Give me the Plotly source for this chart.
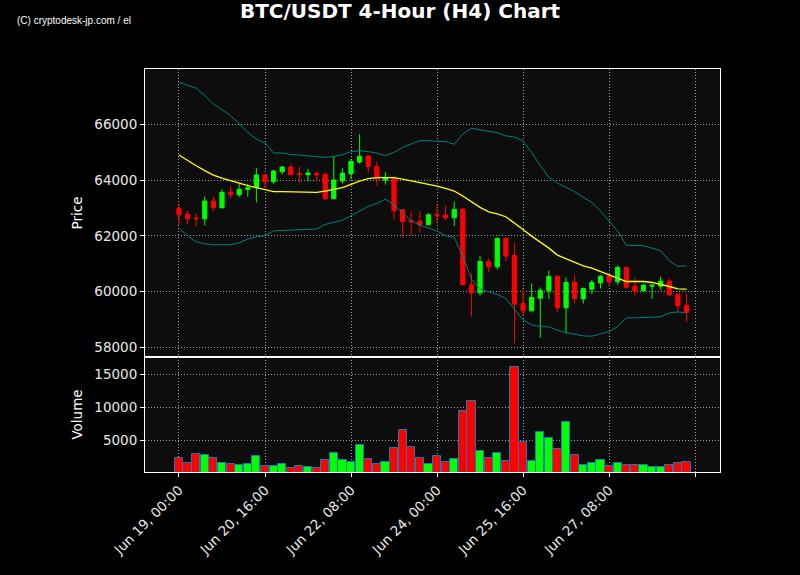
import pandas as pd
import plotly.graph_objects as go

dates = pd.date_range("2024-06-19 00:00", periods=60, freq="4h")

open_ = [62982, 62778, 62635, 62611, 63246, 63006, 63569, 63473, 63665, 63725, 64180, 63940, 64299, 64467, 64228,
         64192, 64240, 64204, 63329, 63964, 64228, 64647, 64862, 64491, 64000, 64084, 62934, 62539, 62527, 62395,
         62754, 62742, 62647, 62958, 60240, 59952, 61078, 60886, 61904, 61294, 59569, 59306, 59760, 60024, 60551,
         59414, 60336, 59737, 60084, 60312, 60563, 60348, 60862, 60192, 60024, 60192, 60192, 60372, 59904, 59509]
close = [62754, 62611, 62611, 63246, 63006, 63557, 63473, 63665, 63725, 64180, 63940, 64324, 64467, 64192, 64204,
         64252, 64192, 63329, 64000, 64252, 64671, 64850, 64479, 64036, 64096, 62898, 62503, 62503, 62395, 62754,
         62719, 62647, 62946, 60240, 59952, 61078, 60886, 61904, 61270, 59545, 59306, 59785, 60048, 60539, 59414,
         60323, 59737, 60108, 60323, 60551, 60348, 60862, 60156, 60024, 60228, 60228, 60372, 59880, 59485, 59258]
high = [63138, 62898, 62790, 63413, 63401, 63665, 63773, 63880, 63856, 64431, 64200, 64360, 64503, 64587, 64479,
        64395, 64324, 64276, 64850, 64419, 64754, 65641, 64874, 64671, 64276, 64084, 62934, 62874, 62886, 62814,
        63138, 63078, 63222, 62982, 60659, 61282, 61186, 61952, 61904, 61749, 60084, 60288, 60144, 60755, 60587,
        60503, 60587, 60144, 60419, 60599, 60635, 60934, 60862, 60491, 60276, 60228, 60539, 60467, 59904, 59928]
low = [62395, 62407, 62347, 62371, 62886, 62982, 63341, 63389, 63401, 63198, 63713, 63868, 64204, 64192, 63916,
       63952, 63940, 63270, 63329, 63880, 64024, 64587, 64264, 63796, 63832, 62587, 61940, 62000, 62120, 62395,
       62479, 62539, 62348, 60240, 59102, 59857, 60683, 60791, 61078, 58144, 59126, 59306, 58347, 59725, 59246,
       58491, 59569, 59569, 59904, 60108, 60180, 60240, 60108, 59844, 60012, 59737, 60060, 59844, 59269, 58911]
bb_upper = [67509, 67413, 67293, 67030, 66731, 66527, 66312, 66012, 65713, 65473, 65329, 64970, 64970, 64922, 64898,
            64850, 64850, 64814, 64850, 64910, 65018, 65054, 65018, 64970, 64874, 64994, 65174, 65293, 65413, 65413,
            65401, 65377, 65282, 65653, 65856, 65808, 65760, 65701, 65581, 65545, 65401, 64994, 64515, 64096, 63892,
            63749, 63581, 63377, 63198, 62886, 62527, 62168, 61665, 61665, 61641, 61557, 61461, 61102, 60898, 60922]
bb_mid = [64898, 64695, 64515, 64336, 64180, 64072, 63976, 63880, 63796, 63725, 63653, 63581, 63581, 63569, 63557,
          63545, 63557, 63605, 63653, 63725, 63844, 63964, 64048, 64084, 64084, 64084, 64036, 63976, 63916, 63856,
          63784, 63701, 63605, 63425, 63210, 63018, 62862, 62790, 62683, 62467, 62228, 61988, 61772, 61557, 61306,
          61186, 61066, 60922, 60838, 60731, 60599, 60479, 60359, 60359, 60359, 60324, 60264, 60180, 60096, 60084]
bb_lower = [62264, 62000, 61785, 61713, 61677, 61665, 61677, 61749, 61880, 61964, 62000, 62180, 62192, 62204, 62216,
            62228, 62240, 62407, 62479, 62563, 62719, 62886, 63054, 63162, 63317, 63102, 62838, 62539, 62383, 62276,
            62168, 62000, 61940, 61282, 60443, 60084, 59988, 59892, 59749, 59365, 58982, 58802, 58743, 58731, 58611,
            58527, 58455, 58407, 58395, 58467, 58563, 58743, 59054, 59054, 59066, 59078, 59090, 59233, 59269, 59233]
volume = [2418, 1661, 3025, 2873, 2418, 1661, 1510, 1358, 1510, 2722, 1156, 1156, 1510, 904, 1207, 1005, 853, 2115,
          3176, 2065, 1762, 4237, 2267, 1510, 1813, 3934, 6509, 4085, 2418, 1510, 2722, 1813, 2267, 9388, 10903,
          3479, 2418, 3176, 1964, 16054, 4691, 1964, 6206, 5297, 3782, 7721, 2873, 1358, 1661, 2115, 1207, 1661,
          1358, 1358, 1358, 1055, 1055, 1358, 1661, 1813]

tick_vals = pd.date_range("2024-06-19 00:00", periods=7, freq="40h")
tick_text = ["Jun 19, 00:00", "Jun 20, 16:00", "Jun 22, 08:00", "Jun 24, 00:00",
             "Jun 25, 16:00", "Jun 27, 08:00", ""]
price_ticks = [58000, 60000, 62000, 64000, 66000]
price_tick_text = ["58000", "60000", "62000", "64000", "66000"]
vol_ticks = [5000, 10000, 15000]
vol_tick_text = ["5000", "10000", "15000"]

UP = "#00ff00"
DOWN = "#ff0000"
vol_colors = [UP if c >= o else DOWN for o, c in zip(open_, close)]

fig = go.Figure()
fig.add_trace(go.Candlestick(
    x=dates, open=open_, high=high, low=low, close=close,
    increasing=dict(line=dict(color=UP, width=1), fillcolor=UP),
    decreasing=dict(line=dict(color=DOWN, width=1), fillcolor=DOWN),
    whiskerwidth=0, xaxis="x", yaxis="y", showlegend=False))
fig.add_trace(go.Scatter(x=dates, y=bb_upper, mode="lines", line=dict(color="#008080", width=1),
                         xaxis="x", yaxis="y", showlegend=False))
fig.add_trace(go.Scatter(x=dates, y=bb_mid, mode="lines", line=dict(color="#ffff00", width=1.3),
                         xaxis="x", yaxis="y", showlegend=False))
fig.add_trace(go.Scatter(x=dates, y=bb_lower, mode="lines", line=dict(color="#008080", width=1),
                         xaxis="x", yaxis="y", showlegend=False))
fig.add_trace(go.Bar(x=dates, y=volume, marker=dict(color=vol_colors, line=dict(color="#1f77b4", width=1)),
                     width=4 * 3600 * 1000 * 0.95, xaxis="x2", yaxis="y2", showlegend=False))

x_range = ["2024-06-18 08:12", "2024-06-29 11:35"]
axis_common = dict(showline=True, linecolor="white", linewidth=1, mirror=True,
                   gridcolor="#a0a0a0", griddash="1px,2px", gridwidth=1, zeroline=False,
                   tickfont=dict(color="#e8e8e8", size=13.5),
                   tickcolor="white", ticklen=4)
split = 115 / 403

fig.update_layout(
    width=800, height=575,
    paper_bgcolor="black", plot_bgcolor="#0d0d0d",
    font=dict(family="DejaVu Sans", color="white"),
    margin=dict(l=145, r=80, t=69, b=103),
    title=dict(text="<b>BTC/USDT 4-Hour (H4) Chart</b>", x=0.5, xref="container", xanchor="center",
               y=1 - 11 / 575, yref="container", yanchor="middle",
               font=dict(size=20, color="white", family="DejaVu Sans")),
    xaxis=dict(domain=[0, 1], anchor="y", range=x_range, rangeslider=dict(visible=False),
               tickvals=tick_vals, ticktext=tick_text, showticklabels=False, ticks="", **axis_common),
    yaxis=dict(domain=[split, 1], anchor="x", range=[57650, 67985], tickvals=price_ticks,
               ticktext=price_tick_text, ticks="outside",
               title=dict(text="Price", font=dict(size=13.5, color="white"), standoff=8), **axis_common),
    xaxis2=dict(domain=[0, 1], anchor="y2", range=x_range, matches="x", ticks="outside",
                tickvals=tick_vals, ticktext=tick_text, tickangle=-45, **axis_common),
    yaxis2=dict(domain=[0, split], anchor="x2", range=[240, 17580], tickvals=vol_ticks,
                ticktext=vol_tick_text, ticks="outside",
                title=dict(text="Volume", font=dict(size=13.5, color="white"), standoff=8), **axis_common),
    annotations=[dict(text="(C) cryptodesk-jp.com / el", xref="paper", yref="paper",
                      x=-130 / 575, y=(472 - 21) / 403, xanchor="left", yanchor="middle",
                      showarrow=False, font=dict(size=10, color="white", family="Liberation Sans"))],
    bargap=0,
)

fig.write_html("out.html", config={"displayModeBar": False},
               post_script="document.body.style.margin='0';document.body.style.background='black';")
